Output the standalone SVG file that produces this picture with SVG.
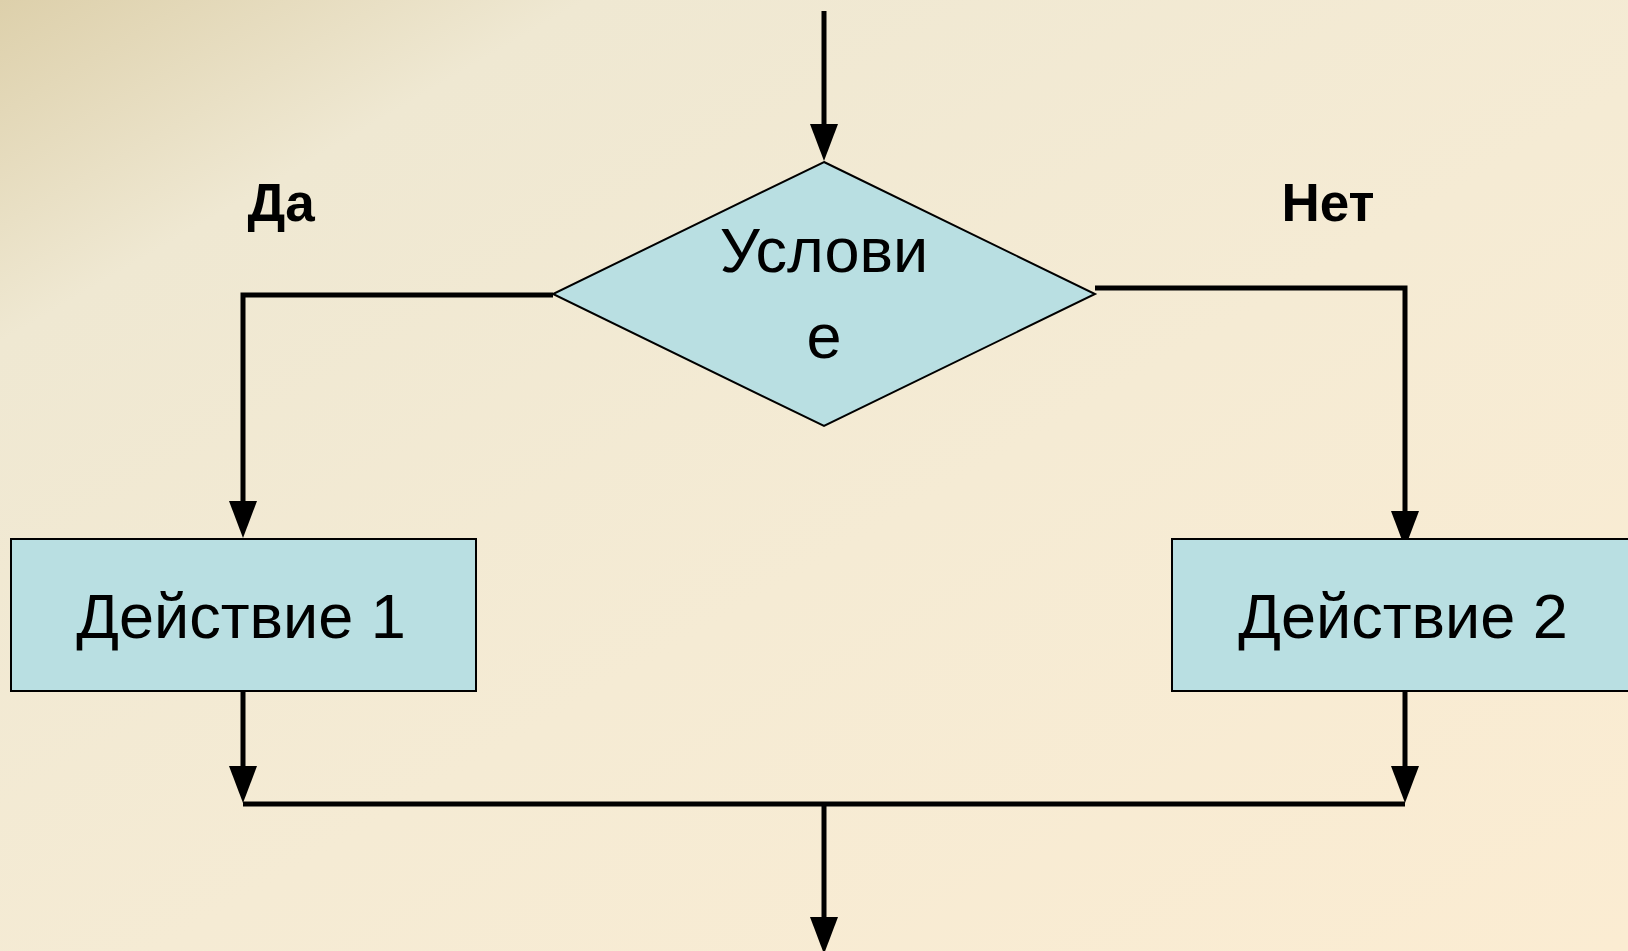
<svg xmlns="http://www.w3.org/2000/svg" width="1628" height="951" viewBox="0 0 1628 951">
  <defs>
    <linearGradient id="bg" x1="0" y1="0" x2="1" y2="1" gradientUnits="objectBoundingBox">
      <stop offset="0" stop-color="#ddd0ab"/>
      <stop offset="0.18" stop-color="#efe8d2"/>
      <stop offset="0.55" stop-color="#f5ebd4"/>
      <stop offset="1" stop-color="#fbecd2"/>
    </linearGradient>
    <marker id="ah" markerUnits="userSpaceOnUse" markerWidth="38" markerHeight="28" refX="0" refY="14" orient="auto" overflow="visible">
      <path d="M0,0 L37,14 L0,28 Z" fill="#000"/>
    </marker>
    <style>
      .shape { fill: #b9dfe2; stroke: #000; stroke-width: 2; }
      .lbl { font-family: "Liberation Sans", Arial, sans-serif; font-size: 63px; fill: #000; text-anchor: middle; }
      .yn { font-family: "Liberation Sans", Arial, sans-serif; font-size: 53px; font-weight: bold; fill: #000; text-anchor: middle; }
      .conn { fill: none; stroke: #000; stroke-width: 5; stroke-linejoin: miter; }
      .arr { marker-end: url(#ah); }
    </style>
  </defs>
  <rect x="0" y="0" width="1628" height="951" fill="url(#bg)"/>

  <g id="connectors">
    <path class="conn arr" d="M824,11 V124"/>
    <path class="conn arr" d="M553,295 H243 V501"/>
    <path class="conn arr" d="M1095,288 H1405 V511"/>
    <path class="conn arr" d="M243,691 V766"/>
    <path class="conn arr" d="M1405,691 V766"/>
    <path class="conn" d="M243,804 H1405"/>
    <path class="conn arr" d="M824,804 V917"/>
  </g>

  <g id="condition">
    <polygon class="shape" points="824,162 1095,294 824,426 553,294"/>
    <text class="lbl" x="824" y="272">Услови</text>
    <text class="lbl" x="824" y="358">е</text>
  </g>

  <g id="action1">
    <rect class="shape" x="11" y="539" width="465" height="152"/>
    <text class="lbl" x="241" y="638" font-size="64">Действие 1</text>
  </g>

  <g id="action2">
    <rect class="shape" x="1172" y="539" width="465" height="152"/>
    <text class="lbl" x="1403" y="638" font-size="64">Действие 2</text>
  </g>

  <g id="label-yes">
    <text class="yn" x="281" y="221">Да</text>
  </g>
  <g id="label-no">
    <text class="yn" x="1328" y="221">Нет</text>
  </g>
</svg>
